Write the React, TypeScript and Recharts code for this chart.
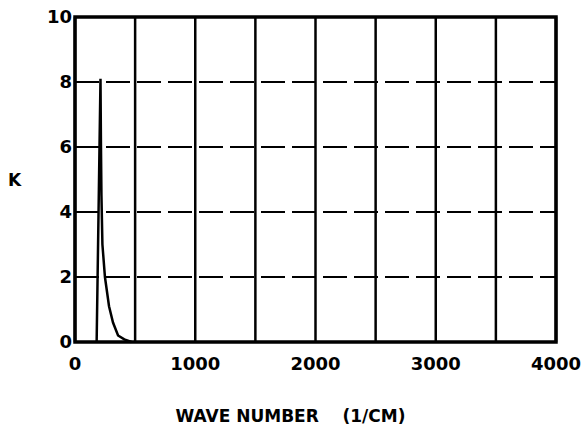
import React from "react";
import { LineChart, Line, XAxis, YAxis, CartesianGrid, ReferenceArea, Label } from "recharts";

// absorption coefficient K against wave number
const waveNumbers = [180, 212, 216, 220, 228, 249, 283, 316, 358, 410, 470];
const kValues = [0, 8.1, 6.0, 4.5, 3.0, 2.0, 1.1, 0.6, 0.2, 0.08, 0];

const xTicks = [0, 500, 1000, 1500, 2000, 2500, 3000, 3500, 4000];
const yTicks = [0, 2, 4, 6, 8, 10];

const data = waveNumbers.map((wn, i) => ({ wn, k: kValues[i] }));

const font = "'DejaVu Sans', sans-serif";
const tickStyle = { fill: "#000", fontSize: 18, fontWeight: 700, fontFamily: font };

export default function App() {
  return (
    <div style={{ position: "absolute", left: 0, top: 0, background: "#fff" }}>
      <LineChart width={587} height={428} data={data} margin={{ top: 17, right: 31, bottom: 0, left: 0 }}>
        {/* solid verticals, dashed horizontals */}
        <CartesianGrid vertical={false} stroke="#000" strokeWidth={2} strokeDasharray="24 7" />
        <CartesianGrid horizontal={false} stroke="#000" strokeWidth={2.5} />
        <XAxis
          type="number"
          dataKey="wn"
          domain={[0, 4000]}
          ticks={xTicks}
          tickFormatter={(v: number) => (v % 1000 === 0 ? String(v) : "")}
          tick={tickStyle}
          tickLine={false}
          axisLine={false}
          tickSize={0}
          tickMargin={15}
          height={86}
          interval={0}
        >
          <Label
            value={"WAVE NUMBER\u00A0\u00A0\u00A0\u00A0(1/CM)"}
            position="insideBottom"
            offset={6}
            dx={-25}
            style={{ fill: "#000", fontSize: 17, fontWeight: 700, fontFamily: font }}
          />
        </XAxis>
        <YAxis
          type="number"
          domain={[0, 10]}
          ticks={yTicks}
          tick={tickStyle}
          tickLine={false}
          axisLine={false}
          tickSize={0}
          tickMargin={3}
          width={75}
          interval={0}
        >
          <Label
            value="K"
            position="insideLeft"
            offset={8}
            style={{ fill: "#000", fontSize: 17, fontWeight: 700, fontFamily: font }}
          />
        </YAxis>
        <ReferenceArea x1={0} x2={4000} y1={0} y2={10} fill="none" stroke="#000" strokeWidth={3.5} ifOverflow="visible" />
        <Line
          type="linear"
          dataKey="k"
          stroke="#000"
          strokeWidth={2.5}
          dot={false}
          isAnimationActive={false}
        />
      </LineChart>
    </div>
  );
}
